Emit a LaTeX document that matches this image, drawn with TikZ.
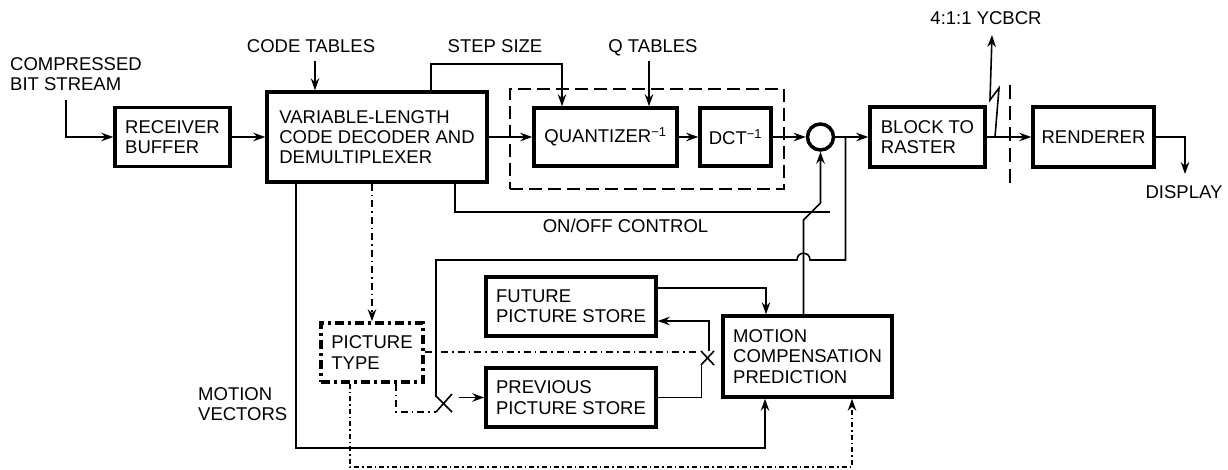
\documentclass[tikz,border=0pt]{standalone}
\usepackage{fontspec}
\setmainfont{Liberation Sans}
\usetikzlibrary{arrows.meta}
\begin{document}
\begin{tikzpicture}[x=1pt,y=-1pt,
  font=\fontsize{18.5}{20.3}\selectfont,
  box/.style={draw, line width=3.5pt, align=left, inner sep=0pt},
  ln/.style={line width=1.6pt},
  arr/.style={ln, -{Stealth[length=12pt,width=8.5pt]}},
  dd/.style={ln, dash pattern=on 7pt off 4pt on 1.5pt off 4pt},
  ddb/.style={ln, dash pattern=on 5pt off 3pt on 1.5pt off 3pt},
  lab/.style={inner sep=0pt, align=left}]
\useasboundingbox (0,0) rectangle (1228,470);

% boxes
\node[box, minimum width=115pt, minimum height=59pt] (rb) at (172.5,137) {RECEIVER\\BUFFER};
\node[box, minimum width=220pt, minimum height=90pt] (vlc) at (377,137) {VARIABLE-LENGTH\\CODE DECODER AND\\DEMULTIPLEXER};
\node[draw, ln, dash pattern=on 13pt off 6pt, minimum width=274pt, minimum height=100pt, inner sep=0pt] (grp) at (647,139) {};
\node[box, minimum width=143pt, minimum height=58pt] (q) at (605.5,137) {QUANTIZER\textsuperscript{\char"2212 1}};
\node[box, minimum width=71pt, minimum height=58pt] (dct) at (735.5,137) {DCT\textsuperscript{\char"2212 1}};
\node[draw, circle, line width=3.5pt, minimum size=26pt, inner sep=0pt] (sum) at (820.5,137) {};
\node[box, minimum width=115pt, minimum height=60pt] (btr) at (927.5,137) {BLOCK TO\\RASTER};
\node[box, minimum width=121pt, minimum height=60pt] (ren) at (1093.5,137) {RENDERER};
\node[box, minimum width=170pt, minimum height=59pt] (fut) at (571,306.5) {FUTURE\\PICTURE STORE};
\node[box, minimum width=170pt, minimum height=59pt] (prev) at (571,397.5) {PREVIOUS\\PICTURE STORE};
\node[box, dash pattern=on 9pt off 4pt on 3pt off 4pt, minimum width=102pt, minimum height=59pt] (pt) at (372,352.5) {PICTURE\\TYPE};
\node[box, minimum width=169pt, minimum height=81pt] (mcp) at (807.5,356.5) {MOTION\\COMPENSATION\\PREDICTION};

% labels
\node[lab, anchor=north west] (lcbs) at (10,57) {COMPRESSED\\BIT STREAM};
\node[lab, anchor=base] (lct) at (311,53) {CODE TABLES};
\node[lab, anchor=base] (lss) at (495,53) {STEP SIZE};
\node[lab, anchor=base] (lqt) at (653,53) {Q TABLES};
\node[lab, anchor=base] (lyc) at (986,25) {4:1:1 YCBCR};
\node[lab, anchor=base] (loo) at (625.5,233) {ON/OFF CONTROL};
\node[lab, anchor=base] (ldisp) at (1184,199) {DISPLAY};
\node[lab, anchor=north west] (lmv) at (198,387) {MOTION\\VECTORS};

% coordinates
\coordinate (cbs) at (66,100);
\coordinate (ctA) at (315,61);
\coordinate (ss1) at (431,64);
\coordinate (ss2) at (562,64);
\coordinate (qtA) at (649,61);
\coordinate (ly0) at (995,137);
\coordinate (ly1) at (999,88);
\coordinate (ly2) at (990,100);
\coordinate (ly3) at (992,35);
\coordinate (sepT) at (1010,85);
\coordinate (sepB) at (1010,190);
\coordinate (disp) at (1185,174);
\coordinate (fb0) at (845.5,137);
\coordinate (fb1) at (845.5,260);
\coordinate (fb2) at (436,260);
\coordinate (fb3) at (436,397);
\coordinate (oo1) at (455,212);
\coordinate (oo2) at (830,212);
\coordinate (sw3a) at (803.5,220);
\coordinate (sw3b) at (820.5,203);
\coordinate (mv1) at (296,448);
\coordinate (mv2) at (765,448);
\coordinate (pb1) at (350,467);
\coordinate (pb2) at (852,467);
\coordinate (pdA) at (396,412);
\coordinate (sw1L) at (436,412);
\coordinate (sw1R) at (459,397.5);
\coordinate (sw2L) at (699,352);
\coordinate (sw2B) at (701.5,365);
\coordinate (sw2T) at (709,351);
\coordinate (fm) at (766,288);

% main chain
\draw[arr] (cbs) |- (rb.west);
\draw[arr] (rb.east) -- (vlc.west);
\draw[arr] (ctA) -- (ctA |- vlc.north);
\draw[arr] (vlc.north -| ss1) -- (ss1) -- (ss2) -- (ss2 |- q.north);
\draw[arr] (qtA) -- (qtA |- q.north);
\draw[arr] (vlc.east) -- (q.west);
\draw[arr] (q.east) -- (dct.west);
\draw[arr] (dct.east) -- (sum.west);
\draw[arr] (sum.east) -- (btr.west);
\draw[arr] (btr.east) -- (ren.west);
\draw[arr] (ren.east) -| (disp);
\draw[arr] (ly0) -- (ly1) -- (ly2) -- (ly3);
\draw[ln, dash pattern=on 14pt off 7pt] (sepT) -- (sepB);

% feedback with hop
\draw[ln] (fb0) -- (fb1) -- (810,260) .. controls (810,251) and (797,251) .. (797,260) -- (fb2) -- (fb3);
% lower switch
\draw[ln] (436,396) -- (452,412) (436,412) -- (452,394);
\draw[arr] (sw1R) -- (prev.west);
\draw[dd] (pt.south -| pdA) |- (sw1L);

% on/off and switch into summer
\draw[ln] (vlc.south -| oo1) |- (oo2);
\draw[arr] (mcp.north -| sw3a) -- (sw3a) -- (sw3b) -- (sum.south);

% stores
\draw[arr] (fut.east |- fm) -| (mcp.north -| fm);
\draw[ln] (prev.east) -| (sw2B);
\draw[ln] (701,351) -- (714,365) (701,365) -- (714,351);
\draw[arr] (sw2T) |- ([yshift=-14.5pt]fut.east);
\draw[dd] (pt.east |- sw2L) -- (sw2L);

% motion vectors and picture type
\draw[arr] (vlc.south -| mv1) |- (mv2) -- (mv2 |- mcp.south);
\draw[dd, -{Stealth[length=12pt,width=8.5pt]}] (vlc.south -| pt.north) -- (pt.north);
\draw[ddb, -{Stealth[length=12pt,width=8.5pt]}] (pt.south -| pb1) |- (pb2) -- (pb2 |- mcp.south);
\end{tikzpicture}
\end{document}
